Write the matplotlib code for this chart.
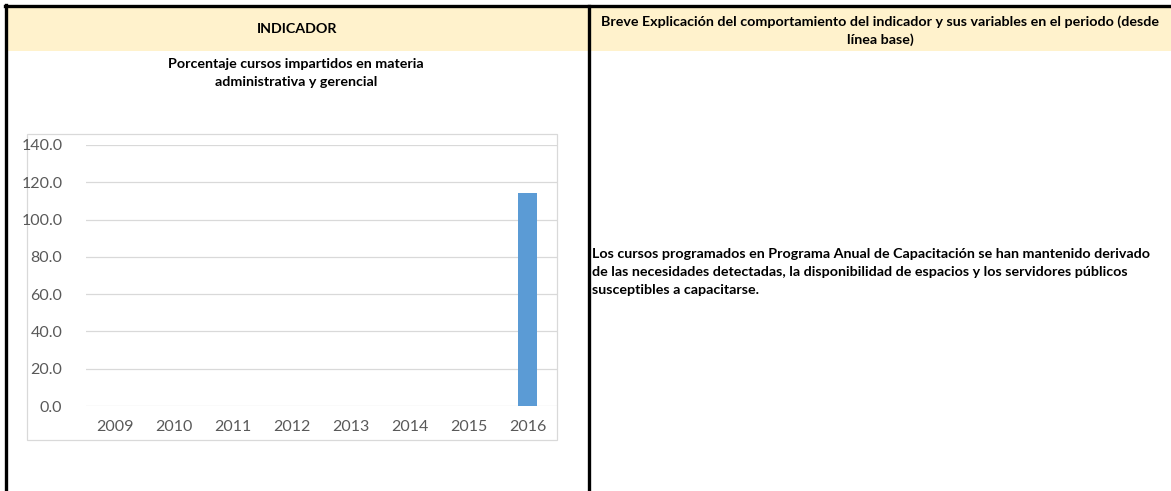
import matplotlib
matplotlib.use("Agg")
import matplotlib.pyplot as plt
from matplotlib.patches import Rectangle

# chart data
years = ["2009", "2010", "2011", "2012", "2013", "2014", "2015", "2016"]
values = [0, 0, 0, 0, 0, 0, 0, 114.3]
y_ticks = [0, 20, 40, 60, 80, 100, 120, 140]

header_left = "INDICADOR"
header_right = "Breve Explicación del comportamiento del indicador y sus variables en el periodo (desde\nlínea base)"
chart_title = "Porcentaje cursos impartidos en materia\nadministrativa y gerencial"
explanation = ("Los cursos programados en Programa Anual de Capacitación se han mantenido derivado\n"
               "de las necesidades detectadas, la disponibilidad de espacios y los servidores públicos\n"
               "susceptibles a capacitarse.")

W, H = 1171, 491
plt.rcParams['font.family'] = ['Lato', 'DejaVu Sans']

fig = plt.figure(figsize=(W / 100, H / 100), dpi=100)

# background "sheet" drawn in pixel coordinates
bg = fig.add_axes([0, 0, 1, 1])
bg.set_xlim(0, W)
bg.set_ylim(H, 0)
bg.axis("off")

bg.add_patch(Rectangle((6, 6), W - 6, 45, facecolor="#FFF2CC", edgecolor="none"))
bg.plot([6, 6], [5, H], color="black", lw=2.4)
bg.plot([5, W], [6, 6], color="black", lw=2.4)
bg.plot([589, 589], [6, H], color="black", lw=2.4)

fs = 10.3
bg.text(297, 29, header_left, ha="center", va="center", fontsize=fs, fontweight="bold")
bg.text(880, 31, header_right, ha="center", va="center", fontsize=fs, fontweight="bold",
        linespacing=1.5)
bg.text(296, 73, chart_title, ha="center", va="center", fontsize=fs, fontweight="bold",
        linespacing=1.55)
bg.text(592, 272, explanation, ha="left", va="center", fontsize=fs, fontweight="bold",
        linespacing=1.55)

# chart frame
bg.add_patch(Rectangle((27, 134), 530, 306, facecolor="none", edgecolor="#D9D9D9", lw=0.9))

# bar chart
ax = fig.add_axes([86 / W, (H - 406) / H, 471 / W, 261 / H])
ax.patch.set_alpha(0)
ax.bar(range(len(years)), values, width=0.33, color="#5B9BD5", zorder=3)
ax.set_xlim(-0.5, len(years) - 0.5)
ax.set_ylim(0, 140)
ax.set_yticks(y_ticks)
ax.set_yticklabels([f"{v:.1f}" for v in y_ticks])
ax.set_xticks(range(len(years)))
ax.set_xticklabels(years)
ax.grid(axis="y", color="#D9D9D9", lw=0.9, zorder=0)
for s in ax.spines.values():
    s.set_visible(False)
ax.tick_params(length=0, labelsize=11.5, labelcolor="#595959")
ax.tick_params(axis="y", pad=17)
ax.tick_params(axis="x", pad=10)

fig.savefig("out.png", dpi=100)
